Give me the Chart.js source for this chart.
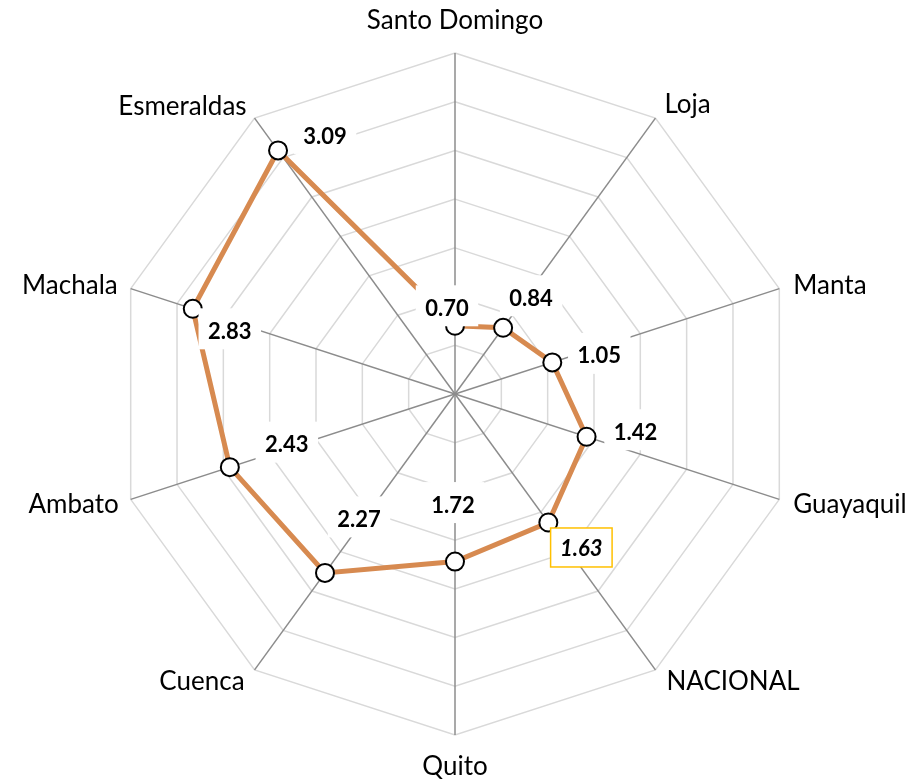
<!DOCTYPE html>
<html>
<head>
<meta charset="utf-8">
<script src="https://cdn.jsdelivr.net/npm/chart.js@4.4.1/dist/chart.umd.min.js"></script>
<style>
  html, body { margin: 0; padding: 0; background: #fff; }
  #wrap { width: 912px; height: 781px; }
</style>
</head>
<body>
<div id="wrap"><canvas id="radarChart"></canvas></div>
<script>
	// categories, clockwise from the top
	var cities = ["Santo Domingo", "Loja", "Manta", "Guayaquil", "NACIONAL", "Quito", "Cuenca", "Ambato", "Machala", "Esmeraldas"];
	var values = [0.70, 0.84, 1.05, 1.42, 1.63, 1.72, 2.27, 2.43, 2.83, 3.09];
	var scaleMin = 0;
	var scaleMax = 3.5;
	var scaleStep = 0.5;

	// category label placement relative to the outer vertex: [dx, dy to baseline, align]
	var cityLabelPos = [
		[0, -24, 'center'], [9, -5, 'left'], [14, 5, 'left'], [14, 14, 'left'], [11, 20, 'left'],
		[0, 40, 'center'], [-10, 20, 'right'], [-12, 14, 'right'], [-13, 5, 'right'], [-8, -3, 'right']
	];
	// value label centre relative to its point (px)
	var labelOffsets = [[-8,-18],[28,-30],[47,-7],[49,-5],[33,25],[-2,-57],[34,-54],[57,-23],[37,22],[47,-15]];
	var highlightIndex = 4;

	var cityLabels = {
		id: 'cityLabels',
		afterDraw: function (chart) {
			var scale = chart.scales.r;
			var ctx = chart.ctx;
			ctx.save();
			ctx.font = '26px Lato';
			ctx.fillStyle = '#000';
			ctx.textBaseline = 'alphabetic';
			cities.forEach(function (name, i) {
				var p = scale.getPointPosition(i, scale.drawingArea);
				var o = cityLabelPos[i];
				ctx.textAlign = o[2];
				ctx.fillText(name, p.x + o[0], p.y + o[1]);
			});
			ctx.restore();
		}
	};

	var valueLabels = {
		id: 'valueLabels',
		afterDatasetsDraw: function (chart) {
			var ctx = chart.ctx;
			var meta = chart.getDatasetMeta(0);
			ctx.save();
			meta.data.forEach(function (pt, i) {
				var txt = values[i].toFixed(2);
				var x = pt.x + labelOffsets[i][0];
				var y = pt.y + labelOffsets[i][1];
				var italic = i === highlightIndex;
				ctx.font = (italic ? 'italic ' : '') + 'bold 22px Lato';
				var w = ctx.measureText(txt).width;
				var bw = w + 19, bh = 41;
				ctx.fillStyle = '#fff';
				if (italic) {
					bh = 39;
					ctx.fillRect(x - bw / 2, y - bh / 2, bw, bh);
					ctx.strokeStyle = '#FFC000';
					ctx.lineWidth = 1.5;
					ctx.strokeRect(x - bw / 2, y - bh / 2, bw, bh);
				} else {
					ctx.fillRect(x - bw / 2, y - bh / 2 - 2, bw, bh);
				}
				ctx.fillStyle = '#000';
				ctx.textAlign = 'center';
				ctx.textBaseline = 'middle';
				ctx.fillText(txt, x, y + 1);
			});
			ctx.restore();
		}
	};

	var ctx = document.getElementById("radarChart").getContext('2d');
	var radarChart = new Chart(ctx, {
		type: 'radar',
		data: {
			labels: cities,
			datasets: [{
				data: values,
				borderColor: '#D78A50',
				borderWidth: 5,
				fill: false,
				pointRadius: 9,
				pointHoverRadius: 9,
				pointBackgroundColor: '#fff',
				pointBorderColor: '#000',
				pointBorderWidth: 2
			}]
		},
		options: {
			responsive: true,
			maintainAspectRatio: false,
			animation: false,
			layout: { padding: { top: 53, bottom: 46, left: 0, right: 2 } },
			plugins: {
				legend: { display: false },
				tooltip: { enabled: false }
			},
			scales: {
				r: {
					min: scaleMin,
					max: scaleMax,
					ticks: { stepSize: scaleStep, display: false },
					grid: { color: '#D9D9D9', lineWidth: 1.5 },
					angleLines: { color: '#8C8C8C', lineWidth: 1.5 },
					pointLabels: { display: false }
				}
			}
		},
		plugins: [valueLabels, cityLabels]
	});
</script>
</body>
</html>
